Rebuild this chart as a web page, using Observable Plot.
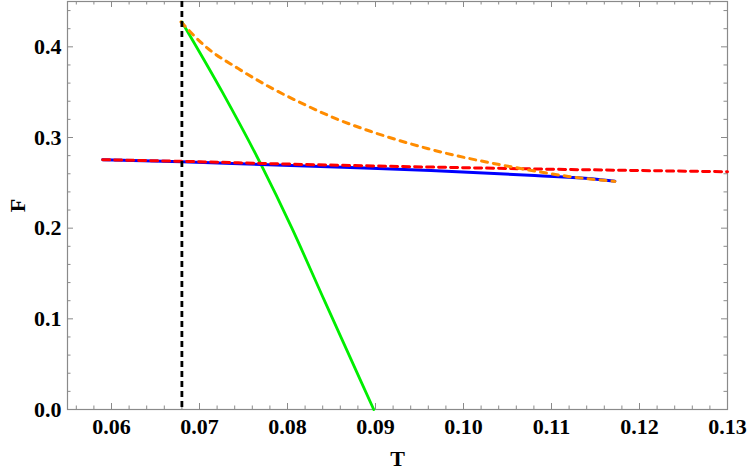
<!DOCTYPE html>
<html>
<head>
<meta charset="utf-8">
<script src="https://cdn.jsdelivr.net/npm/d3@7"></script>
<script src="https://cdn.jsdelivr.net/npm/@observablehq/plot@0.6"></script>
<style>
  html, body { margin: 0; padding: 0; background: #fff; }
  #chart svg text { font-family: 'Liberation Serif', 'Times New Roman', serif !important; font-weight: bold !important; font-size: 22px !important; }
</style>
</head>
<body>
<div id="chart"></div>
<script>
// ---- data ----
const blueT = [0.059, 0.068, 0.077, 0.0863, 0.0963, 0.1081, 0.1156, 0.1172];
const blueF = [0.2755, 0.2732, 0.2703, 0.2672, 0.2637, 0.2580, 0.2535, 0.2518];

const redT = [0.059, 0.068, 0.080, 0.0963, 0.110, 0.120, 0.130];
const redF = [0.2755, 0.2737, 0.2707, 0.2674, 0.2650, 0.2636, 0.2622];

const orangeT = [0.0679, 0.0706, 0.0744, 0.0781, 0.0819, 0.0857, 0.0895, 0.0960, 0.1062, 0.1119, 0.1172];
const orangeF = [0.4275, 0.4010, 0.3760, 0.3550, 0.3365, 0.3200, 0.3066, 0.2876, 0.2663, 0.2571, 0.2516];

const greenT = [0.0680, 0.0726, 0.0770, 0.0805, 0.0842, 0.0870, 0.0898];
const greenF = [0.4275, 0.3500, 0.2700, 0.2000, 0.1200, 0.0600, 0.0000];

const vlineT = [0.068];

const xMajor = [0.06, 0.07, 0.08, 0.09, 0.10, 0.11, 0.12, 0.13];
const xMinor = d3.range(56, 131, 2).map(v => v / 1000).filter(v => Math.round(v * 1000) % 10 !== 0);
const yMajor = [0.0, 0.1, 0.2, 0.3, 0.4];
const yMinor = d3.range(2, 45, 2).map(v => v / 100).filter(v => Math.round(v * 100) % 10 !== 0);

const xDomain = [0.055, 0.13];
const yDomain = [0, 0.45];

const toRows = (T, F) => T.map((t, i) => ({T: t, F: F[i]}));

const W = 747, H = 474;
const mL = 67, mR = 20, mT = 1, mB = 65;
const pw = W - mL - mR, ph = H - mT - mB;
const frameColor = "#8a8a8a";
const font = "'Liberation Serif', 'Times New Roman', serif";

const chart = Plot.plot({
  width: W,
  height: H,
  marginLeft: mL,
  marginRight: mR,
  marginTop: mT,
  marginBottom: mB,
  style: "font-family: 'Liberation Serif', serif; font-weight: bold; font-size: 22px; color: black; background: white;",
  x: {domain: xDomain},
  y: {domain: yDomain},
  marks: [
    Plot.frame({stroke: frameColor, strokeWidth: 1.2}),
    // major/minor ticks on all sides, inward
    Plot.tickX(xMajor, {x: d => d, stroke: frameColor, insetTop: ph - 6}),
    Plot.tickX(xMinor, {x: d => d, stroke: frameColor, insetTop: ph - 3.5}),
    Plot.tickX(xMajor, {x: d => d, stroke: frameColor, insetBottom: ph - 6}),
    Plot.tickX(xMinor, {x: d => d, stroke: frameColor, insetBottom: ph - 3.5}),
    Plot.tickY(yMajor, {y: d => d, stroke: frameColor, insetRight: pw - 6}),
    Plot.tickY(yMinor, {y: d => d, stroke: frameColor, insetRight: pw - 3.5}),
    Plot.tickY(yMajor, {y: d => d, stroke: frameColor, insetLeft: pw - 6}),
    Plot.tickY(yMinor, {y: d => d, stroke: frameColor, insetLeft: pw - 3.5}),
    Plot.axisX({ticks: xMajor, tickSize: 0, tickPadding: 9, tickFormat: d3.format(".2f"),
      fontSize: 22, fontWeight: "bold", fontFamily: font,
      label: "T", labelAnchor: "center", labelArrow: "none", labelOffset: 56}),
    Plot.axisY({ticks: yMajor, tickSize: 0, tickPadding: 6, tickFormat: d3.format(".1f"),
      fontSize: 22, fontWeight: "bold", fontFamily: font,
      label: "F", labelAnchor: "center", labelArrow: "none", labelOffset: 58}),
    // curves
    Plot.line(toRows(greenT, greenF), {x: "T", y: "F", stroke: "#00ee00", strokeWidth: 2.8, curve: "monotone-x"}),
    Plot.line(toRows(blueT, blueF), {x: "T", y: "F", stroke: "#0000ff", strokeWidth: 3, curve: "monotone-x"}),
    Plot.line(toRows(redT, redF), {x: "T", y: "F", stroke: "#ff0000", strokeWidth: 3, strokeDasharray: "7,5", curve: "monotone-x"}),
    Plot.line(toRows(orangeT, orangeF), {x: "T", y: "F", stroke: "#ff8c00", strokeWidth: 3, strokeDasharray: "6,6", curve: "monotone-x"}),
    Plot.ruleX(vlineT, {x: d => d, stroke: "black", strokeWidth: 2.8, strokeDasharray: "6,4"})
  ]
});
document.getElementById("chart").appendChild(chart);
</script>
</body>
</html>
